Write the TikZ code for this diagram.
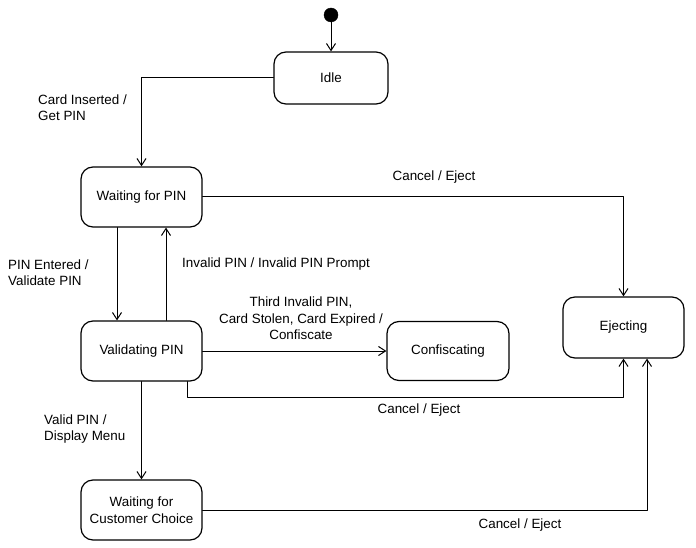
\documentclass[tikz,border=0pt]{standalone}
\usepackage{fontspec}
\setmainfont{Liberation Sans}
\usetikzlibrary{arrows.meta}
\begin{document}
\begin{tikzpicture}[yscale=-1, x=1pt, y=1pt, line join=round, line cap=round,
  state/.style={draw, line width=1.2pt, rounded corners=12pt, align=center,
    minimum width=121pt, minimum height=60pt, inner sep=2pt},
  trans/.style={->, line width=1pt},
  lbl/.style={font=\fontsize{13.4}{16.5}\selectfont, inner sep=0pt},
  >={Straight Barb[length=7pt,width=9pt,line width=1pt]}]
\useasboundingbox (0,0) rectangle (696,548);
\tikzset{every node/.append style={font=\fontsize{13.4}{16.5}\selectfont}}
% States
\filldraw (331,15) circle [radius=7] coordinate (init);
\node[state, minimum width=114pt, minimum height=52pt] (idle) at (331,78) {Idle};
\node[state] (waitpin) at (141.5,197) {Waiting for PIN};
\node[state] (validpin) at (141.5,351) {Validating PIN};
\node[state] (choice) at (141.5,510) {Waiting for\\Customer Choice};
\node[state, minimum width=122pt, minimum height=59pt] (confisc) at (448,351) {Confiscating};
\node[state, minimum height=61pt] (eject) at (623.5,327.5) {Ejecting};
% Transitions
\draw[trans] ([yshift=7pt]init) -- (idle.north);
\draw[trans] (idle.west) -| (waitpin.north);
\draw[trans] (waitpin.east) -| (eject.north);
\draw[trans] ([xshift=-24.5pt]waitpin.south) -- ([xshift=-24.5pt]validpin.north);
\draw[trans] ([xshift=24.5pt]validpin.north) -- ([xshift=24.5pt]waitpin.south);
\draw[trans] (validpin.east) -- (confisc.west);
\draw[trans] ([xshift=45.5pt]validpin.south) -- ++(0,16) -| (eject.south);
\draw[trans] (validpin.south) -- (choice.north);
\draw[trans] (choice.east) -| ([xshift=23.5pt]eject.south);
% Labels
\node[lbl, anchor=west, align=left] (lcard) at (38,107.5) {Card Inserted /\\Get PIN};
\node[lbl] (lcancel1) at (434,177) {Cancel / Eject};
\node[lbl, anchor=west, align=left] (lentered) at (8,272.5) {PIN Entered /\\Validate PIN};
\node[lbl, anchor=west] (linvalid) at (182,264) {Invalid PIN / Invalid PIN Prompt};
\node[lbl, align=center] (lthird) at (301,318.5) {Third Invalid PIN,\\Card Stolen, Card Expired /\\Confiscate};
\node[lbl] (lcancel2) at (419,410) {Cancel / Eject};
\node[lbl, anchor=west, align=left] (lvalid) at (44,429) {Valid PIN /\\Display Menu};
\node[lbl] (lcancel3) at (520,525) {Cancel / Eject};
\end{tikzpicture}
\end{document}
